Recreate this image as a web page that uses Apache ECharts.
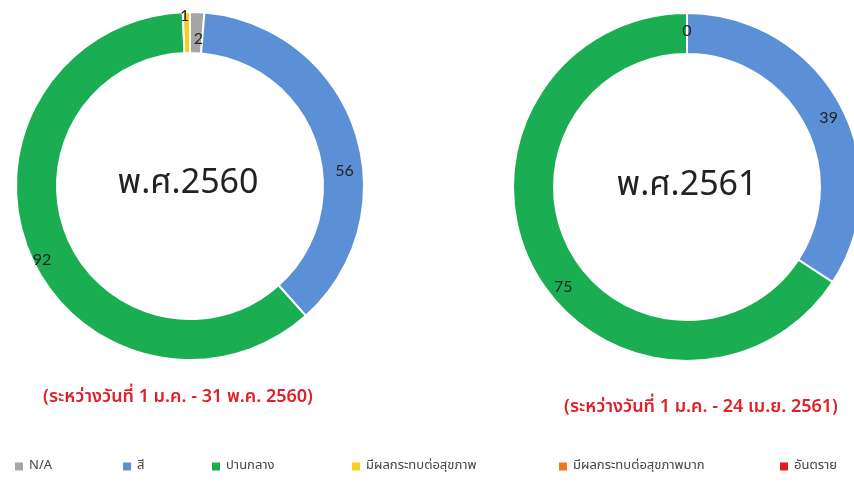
<!DOCTYPE html>
<html>
<head>
<meta charset="utf-8">
<script src="https://cdn.jsdelivr.net/npm/echarts@6/dist/echarts.min.js"></script>
<style>
  html, body { margin: 0; padding: 0; background: #fff; }
  #chart { width: 854px; height: 484px; }
</style>
</head>
<body>
<div id="chart"></div>
<script>
// ระดับคุณภาพ (ชื่อในคำอธิบาย)
const categories = ['N/A', 'สี', 'ปานกลาง', 'มีผลกระทบต่อสุขภาพ', 'มีผลกระทบต่อสุขภาพมาก', 'อันตราย'];
// null = ไม่มีข้อมูล (ไม่แสดงป้าย)
const values2560 = [2, 56, 92, 1, null, null];
const values2561 = [0, 39, 75, null, null, null];
const centerLabels = ['พ.ศ.2560', 'พ.ศ.2561'];
const periodLabels = ['(ระหว่างวันที่ 1 ม.ค. - 31 พ.ค. 2560)', '(ระหว่างวันที่ 1 ม.ค. - 24 เม.ย. 2561)'];

const colors = ['#a5a5a5', '#5b8fd6', '#1aad52', '#f5cf1b', '#ef7521', '#e31b23'];
const legendLeft = [8, 116, 205, 345, 552, 773];
const thaiFont = 'Tahoma, "Noto Sans Thai", "Noto Sans", "DejaVu Sans", sans-serif';

// ขยับป้ายให้ตรงกับตำแหน่งในภาพต้นฉบับ
const labelOffset2560 = { 0: [2, 9], 1: [6, 34], 2: [-3, 15], 3: [-2, -14] };
const labelOffset2561 = { 1: [4, 5], 2: [14, 25] };

function buildData(values, offsets) {
    return categories.map(function (name, i) {
        const v = values[i];
        const item = { name: name, value: v === null ? 0 : v, itemStyle: { color: colors[i] } };
        item.label = { show: v !== null };
        if (offsets && offsets[i]) item.label.offset = offsets[i];
        return item;
    });
}

function donut(center, values, offsets) {
    return {
        type: 'pie',
        center: center,
        radius: [133, 174],
        startAngle: 90,
        clockwise: true,
        silent: true,
        animation: false,
        avoidLabelOverlap: false,
        itemStyle: { borderColor: '#fff', borderWidth: 2 },
        label: {
            position: 'inside',
            formatter: '{c}',
            color: '#222',
            fontSize: 16,
            fontFamily: 'Lato, "Open Sans", sans-serif'
        },
        labelLine: { show: false },
        data: buildData(values, offsets)
    };
}

const chart = echarts.init(document.getElementById('chart'));

const options = {
    backgroundColor: '#fff',
    color: colors,
    legend: categories.map(function (name, i) {
        return {
            data: [name],
            left: legendLeft[i],
            top: 455,
            itemWidth: 10,
            itemHeight: 10,
            itemGap: 6,
            icon: 'rect',
            selectedMode: false,
            textStyle: { color: '#444', fontSize: 13, fontFamily: thaiFont }
        };
    }),
    series: [
        donut([190, 186], values2560, labelOffset2560),
        donut([687, 187], values2561, labelOffset2561)
    ],
    graphic: [
        { type: 'text', x: 188, y: 186, style: { text: centerLabels[0], fill: '#222', font: '34px ' + thaiFont, textAlign: 'center', textVerticalAlign: 'middle' } },
        { type: 'text', x: 687, y: 188, style: { text: centerLabels[1], fill: '#222', font: '34px ' + thaiFont, textAlign: 'center', textVerticalAlign: 'middle' } },
        { type: 'text', x: 178, y: 398, style: { text: periodLabels[0], fill: '#e0202a', font: '600 18px ' + thaiFont, textAlign: 'center', textVerticalAlign: 'middle' } },
        { type: 'text', x: 701, y: 408, style: { text: periodLabels[1], fill: '#e0202a', font: '600 18px ' + thaiFont, textAlign: 'center', textVerticalAlign: 'middle' } }
    ]
};

chart.setOption(options);
window.onresize = function () {
    chart.resize();
};
</script>
</body>
</html>
